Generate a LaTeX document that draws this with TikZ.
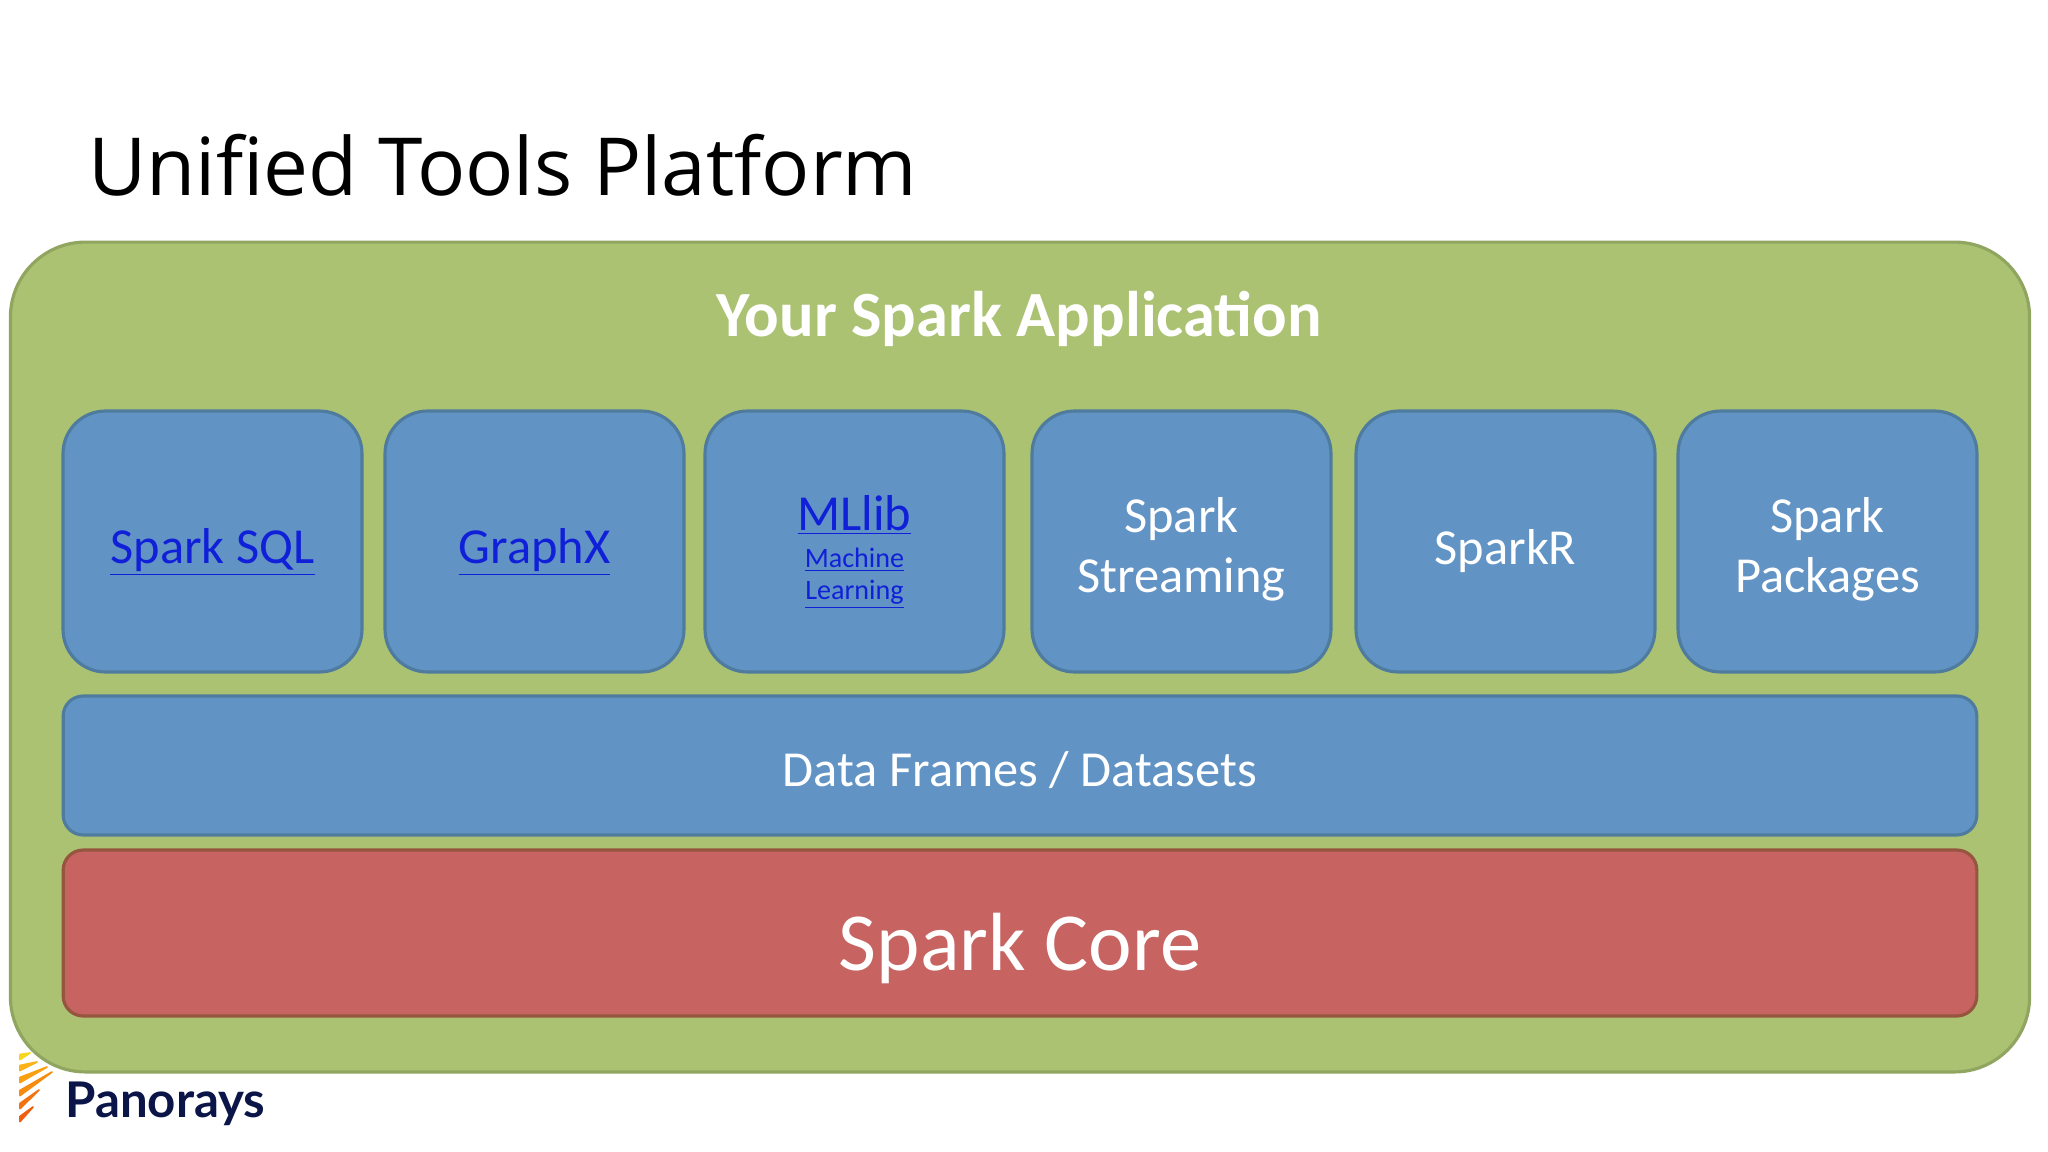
\documentclass[tikz,border=0pt]{standalone}
\usepackage{fontspec}
\setmainfont{Open Sans}
\newfontfamily\boxfont{Carlito}
\newfontfamily\logofont{Lato}
\usepackage{xcolor}
\definecolor{appgreen}{HTML}{ABC272}
\definecolor{appgreenline}{HTML}{8FA560}
\definecolor{toolblue}{HTML}{6193C5}
\definecolor{toolblueline}{HTML}{4F7C9E}
\definecolor{corered}{HTML}{C76361}
\definecolor{coreredline}{HTML}{96553F}
\definecolor{linkblue}{HTML}{1020D8}
\definecolor{logonavy}{HTML}{0B1548}
\definecolor{rayA}{HTML}{F7D71E}
\definecolor{rayB}{HTML}{FBB117}
\definecolor{rayC}{HTML}{F9A012}
\definecolor{rayD}{HTML}{F58C10}
\definecolor{rayE}{HTML}{F2720F}
\definecolor{rayF}{HTML}{EE5E10}
\newcommand{\sparklink}[1]{\textcolor{linkblue}{\underline{#1}}}
\newcommand{\smalllink}[1]{\fontsize{16}{19}\selectfont\sparklink{#1}}
\tikzset{
  toolbox/.style={draw=toolblueline, fill=toolblue, line width=1.8pt, rounded corners=0.85cm,
    minimum width=5.98cm, minimum height=5.22cm, align=center, text=white, inner sep=0pt,
    font=\boxfont\fontsize{28.7}{34}\selectfont},
  texttop/.style={execute at begin node={\rule{0pt}{#1}}},
  layerbar/.style={line width=1.8pt, rounded corners=0.4cm, minimum width=38.28cm,
    align=center, text=white, inner sep=0pt}
}
\begin{document}
\begin{tikzpicture}[x=0.02cm, y=-0.02cm]
  \useasboundingbox (0,0) rectangle (2048,1152);
  % Title
  \node[anchor=base west, inner sep=0pt, font=\fontsize{45.6}{55}\selectfont] (title) at (88,196) {Unified Tools Platform};
  % Logo rays
  \foreach \ya/\xb/\yb/\raycol in {1057/30/1053/rayA, 1068/37/1062/rayB, 1080/47/1067/rayC,
      1093/52/1072/rayD, 1106/39/1090/rayE, 1119/33/1107/rayF}
    \filldraw[\raycol, line width=1pt, line join=round]
      (20,\ya-2.5) -- (\xb,\yb) -- (20,\ya+2.5) -- cycle;
  \node[anchor=base west, inner sep=0pt, text=logonavy, font=\logofont\bfseries\fontsize{28}{30}\selectfont] (logo) at (65,1117) {Panorays};
  % Application frame
  \node[draw=appgreenline, fill=appgreen, line width=1.8pt, rounded corners=1.5cm,
    minimum width=40.39cm, minimum height=16.6cm, inner sep=0pt] (app) at (1020,657) {};
  \node[text=white, inner sep=0pt, font=\boxfont\bfseries\fontsize{36.7}{40}\selectfont] (applabel) at (1019,319) {Your Spark Application};
  % Tools
  \node[toolbox, texttop=32pt] (sql) at (212.5,541.5) {\sparklink{Spark SQL}};
  \node[toolbox, texttop=32pt] (graphx) at (534.5,541.5) {\sparklink{GraphX}};
  \node[toolbox, texttop=71pt] (mllib) at (854.5,541.5) {\sparklink{MLlib}\\[-13pt]
    \smalllink{Machine}\\[-15.5pt] \smalllink{Learning}};
  \node[toolbox, texttop=62.5pt] (streaming) at (1181.5,541.5) {Spark\\Streaming};
  \node[toolbox, texttop=31pt] (sparkr) at (1505.5,541.5) {SparkR};
  \node[toolbox, texttop=62.5pt] (packages) at (1827.5,541.5) {Spark\\Packages};
  % Layers
  \node[layerbar, draw=toolblueline, fill=toolblue, minimum height=2.78cm,
    font=\boxfont\fontsize{28.7}{30}\selectfont] (frames) at (1020,765.5) {\rule{0pt}{25.5pt}Data Frames / Datasets};
  \node[layerbar, draw=coreredline, fill=corered, minimum height=3.32cm,
    font=\boxfont\fontsize{47}{50}\selectfont] (core) at (1020,933) {\rule{0pt}{50pt}Spark Core};
\end{tikzpicture}
\end{document}
